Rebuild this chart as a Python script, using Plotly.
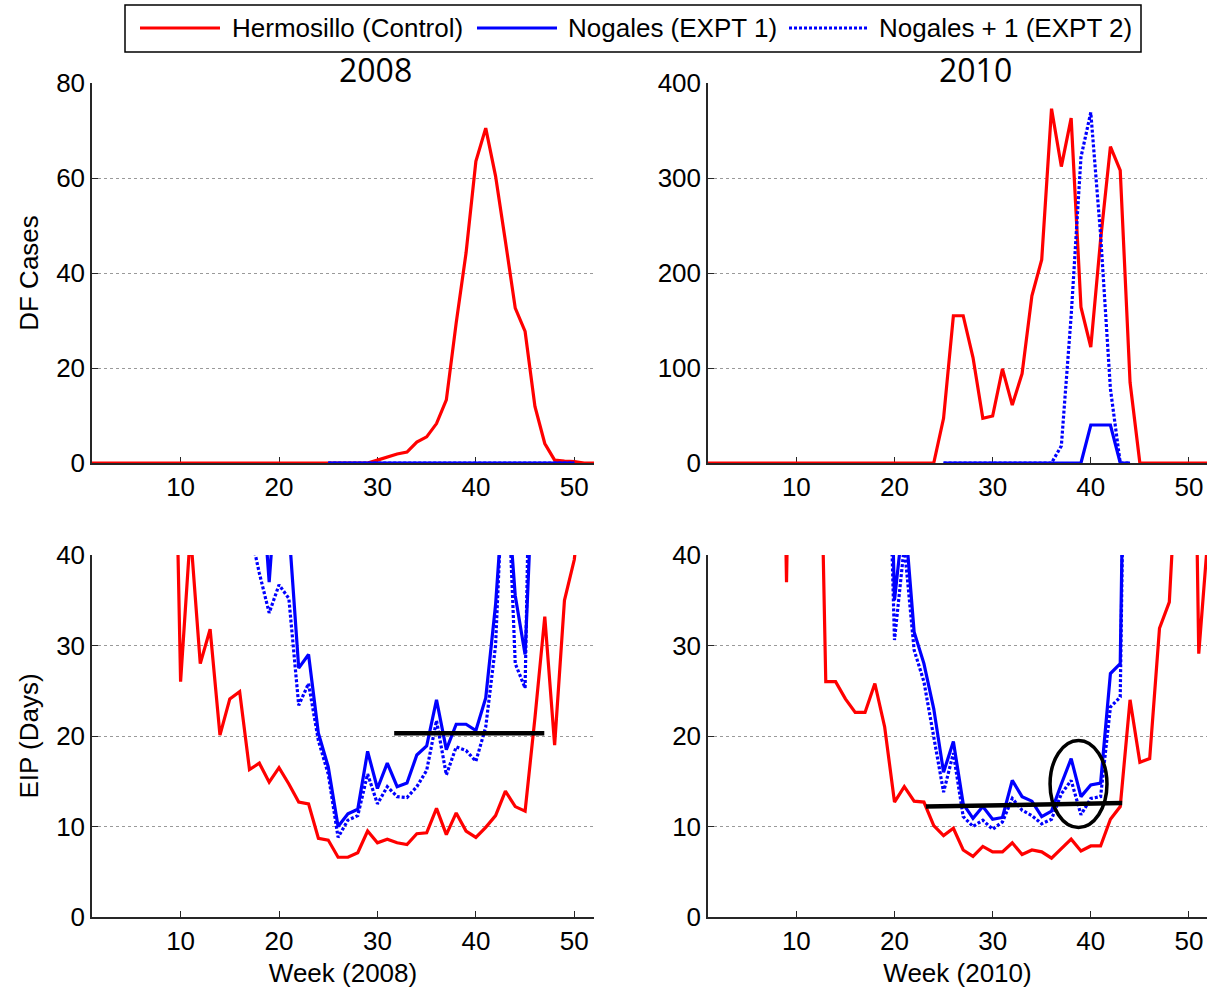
import plotly.graph_objects as go

# ---------------- data ----------------
WEEKS = list(range(1, 53))

# DF cases, 2008
df08_hermosillo = [0, 0, 0, 0, 0, 0, 0, 0, 0, 0,
                   0, 0, 0, 0, 0, 0, 0, 0, 0, 0,
                   0, 0, 0, 0, 0, 0, 0, 0, 0, 0.6,
                   1.3, 1.9, 2.3, 4.4, 5.5, 8.3, 13.3, 29.5, 44.2, 63.5,
                   70.5, 60.4, 46.7, 32.6, 27.7, 11.9, 4.1, 0.6, 0.4, 0.3,
                   0, 0]
df08_nogales = [None, None, None, None, None, None, None, None, None, None,
                None, None, None, None, None, None, None, None, None, None,
                None, None, None, None, 0, 0, 0, 0, 0, 0,
                0, 0, 0, 0, 0, 0, 0, 0, 0, 0,
                0, 0, 0, 0, 0, 0, 0, 0, 0, 0,
                None, None]
df08_nogales_p1 = [None, None, None, None, None, None, None, None, None, None,
                   None, None, None, None, None, None, None, None, None, None,
                   None, None, None, None, 0, 0, 0, 0, 0, 0,
                   0, 0, 0, 0, 0, 0, 0, 0, 0, 0,
                   0, 0, 0, 0, 0, 0, 0, 0, 0, 0,
                   None, None]

# DF cases, 2010
df10_hermosillo = [0, 0, 0, 0, 0, 0, 0, 0, 0, 0,
                   0, 0, 0, 0, 0, 0, 0, 0, 0, 0,
                   0, 0, 0, 0, 47, 155, 155, 111, 47, 49.5,
                   99, 61, 94, 176, 214, 373, 312, 363, 164, 122,
                   235, 333, 308, 85, 0, 0, 0, 0, 0, 0,
                   0, 0]
df10_nogales = [None, None, None, None, None, None, None, None, None, None,
                None, None, None, None, None, None, None, None, None, None,
                None, None, None, None, 0, 0, 0, 0, 0, 0,
                0, 0, 0, 0, 0, 0, 0, 0, 0, 40,
                40, 40, 0, 0, None, None, None, None, None, None,
                None, None]
df10_nogales_p1 = [None, None, None, None, None, None, None, None, None, None,
                   None, None, None, None, None, None, None, None, None, None,
                   None, None, None, None, 0, 0, 0, 0, 0, 0,
                   0, 0, 0, 0, 0, 0, 18, 155, 322, 369,
                   240, 78, 0, 0, None, None, None, None, None, None,
                   None, None]

# EIP (days), 2008
eip08_hermosillo = [None, None, None, None, None, None, None, None, 80, 26.0,
                    42.5, 28.0, 31.8, 20.1, 24.1, 24.9, 16.3, 17.0, 14.9, 16.5,
                    14.7, 12.7, 12.5, 8.7, 8.5, 6.6, 6.6, 7.1, 9.5, 8.2,
                    8.6, 8.2, 8.0, 9.2, 9.3, 12.0, 9.1, 11.5, 9.5, 8.8,
                    9.9, 11.2, 13.9, 12.2, 11.7, 22.0, 33.2, 19.0, 35.0, 39.5,
                    50, 60]
eip08_nogales = [None, None, None, None, None, None, None, None, None, None,
                 None, None, None, None, None, None, None, 52, 37.0, 52,
                 43, 27.5, 29.0, 20.3, 16.6, 10.0, 11.4, 11.9, 18.3, 14.2,
                 17.0, 14.4, 14.8, 17.9, 18.9, 24.0, 18.5, 21.3, 21.3, 20.6,
                 24.2, 34.5, 50, 35.5, 29.0, 55, None, None, None, None,
                 None, None]
eip08_nogales_p1 = [None, None, None, None, None, None, None, None, None, None,
                    None, None, None, None, None, None, 43, 38, 33.6, 36.7,
                    35.2, 23.4, 25.8, 19.5, 15.8, 8.8, 10.7, 11.2, 15.8, 12.5,
                    14.4, 13.3, 13.2, 14.4, 16.2, 21.7, 15.7, 18.8, 18.4, 17.2,
                    21.0, 30.0, 55, 28.0, 25.3, 84, None, None, None, None,
                    None, None]

# EIP (days), 2010
eip10_hermosillo = [None, None, None, None, None, None, None, 100, 37.0, 100,
                    None, 80, 26.0, 26.0, 24.1, 22.6, 22.6, 25.8, 21.0, 12.7,
                    14.4, 12.8, 12.7, 10.1, 9.0, 9.8, 7.4, 6.7, 7.8, 7.2,
                    7.2, 8.2, 6.9, 7.4, 7.2, 6.5, 7.6, 8.6, 7.3, 7.85,
                    7.85, 10.8, 12.2, 24.0, 17.1, 17.5, 31.9, 34.8, 55, 100,
                    29.1, 43]
eip10_nogales = [None, None, None, None, None, None, None, None, None, None,
                 None, None, None, None, None, None, None, None, 80, 35.0,
                 45, 31.5, 28.0, 23.0, 16.0, 19.4, 12.5, 10.9, 12.2, 10.8,
                 11.0, 15.1, 13.3, 12.8, 11.1, 11.7, 14.7, 17.5, 13.3, 14.6,
                 14.8, 26.9, 28.0, 100, None, None, None, None, None, None,
                 None, None]
eip10_nogales_p1 = [None, None, None, None, None, None, None, None, None, None,
                    None, None, None, None, None, None, None, None, 70, 30.6,
                    41, 29.5, 26.0, 20.0, 13.8, 18.1, 11.1, 10.0, 10.7, 9.7,
                    10.5, 13.1, 11.8, 11.2, 10.3, 10.8, 13.6, 15.1, 11.3, 13.1,
                    13.3, 23.2, 24.3, 100, None, None, None, None, None, None,
                    None, None]

# threshold lines and highlighted region
thr08_weeks = [31.7, 46.95]
thr08_eip = [20.3, 20.3]
thr10_weeks = [23.2, 43.2]
thr10_eip = [12.2, 12.6]
ellipse_weeks = [35.85, 41.65]
ellipse_eip = [9.9, 19.5]

SERIES_NAMES = ["Hermosillo (Control)", "Nogales (EXPT 1)", "Nogales + 1 (EXPT 2)"]
TICK_WEEKS = [10, 20, 30, 40, 50]

# ---------------- style ----------------
W, H = 1207, 988
RED = "#FF0000"
BLUE = "#0000FF"
AX = "#262626"
FONT = "Liberation Sans, Arial, sans-serif"
FS = 26
LW = 3.2
DOT = "3px,2px"

def px_x(v):
    return v / W

def px_y(v):
    return 1 - v / H

fig = go.Figure()

panels = [
    ("x", "y", df08_hermosillo, df08_nogales, df08_nogales_p1),
    ("x2", "y2", df10_hermosillo, df10_nogales, df10_nogales_p1),
    ("x3", "y3", eip08_hermosillo, eip08_nogales, eip08_nogales_p1),
    ("x4", "y4", eip10_hermosillo, eip10_nogales, eip10_nogales_p1),
]
for xa, ya, h, n, n1 in panels:
    fig.add_trace(go.Scatter(x=WEEKS, y=h, mode="lines", name=SERIES_NAMES[0],
                             line=dict(color=RED, width=LW), xaxis=xa, yaxis=ya,
                             showlegend=False, connectgaps=False))
    fig.add_trace(go.Scatter(x=WEEKS, y=n, mode="lines", name=SERIES_NAMES[1],
                             line=dict(color=BLUE, width=LW), xaxis=xa, yaxis=ya,
                             showlegend=False, connectgaps=False))
    fig.add_trace(go.Scatter(x=WEEKS, y=n1, mode="lines", name=SERIES_NAMES[2],
                             line=dict(color=BLUE, width=LW, dash=DOT), xaxis=xa, yaxis=ya,
                             showlegend=False, connectgaps=False))

fig.add_trace(go.Scatter(x=thr08_weeks, y=thr08_eip, mode="lines",
                         line=dict(color="black", width=4.5), xaxis="x3", yaxis="y3",
                         showlegend=False))
fig.add_trace(go.Scatter(x=thr10_weeks, y=thr10_eip, mode="lines",
                         line=dict(color="black", width=4.5), xaxis="x4", yaxis="y4",
                         showlegend=False))

fig.add_shape(type="circle", xref="x4", yref="y4",
              x0=ellipse_weeks[0], x1=ellipse_weeks[1],
              y0=ellipse_eip[0], y1=ellipse_eip[1],
              line=dict(color="black", width=3.5))

# ---------------- axes ----------------
left_dom = [px_x(92), px_x(594)]
right_dom = [px_x(708), 1.0]
top_dom = [px_y(463), px_y(83)]
bot_dom = [px_y(917), px_y(555)]

def xstyle(dom, rng, anchor, title=None):
    d = dict(domain=dom, range=rng, anchor=anchor, showline=True, linecolor=AX,
             linewidth=1.5, ticks="inside", ticklen=6, tickwidth=1.2, tickcolor=AX,
             tickvals=TICK_WEEKS, tickfont=dict(family=FONT, size=FS, color="black"),
             showgrid=False, zeroline=False, layer="below traces", fixedrange=True,
             automargin=False)
    if title:
        d["title"] = dict(text=title, font=dict(family=FONT, size=FS, color="black"))
    return d

def ystyle(dom, rng, dtick, anchor, title=None):
    d = dict(domain=dom, range=rng, anchor=anchor, showline=True, linecolor=AX,
             linewidth=1.5, ticks="inside", ticklen=6, tickwidth=1.2, tickcolor=AX,
             dtick=dtick, tick0=0, tickfont=dict(family=FONT, size=FS, color="black"),
             showgrid=True, gridcolor="#9a9a9a", gridwidth=1, griddash="dot",
             zeroline=False, layer="below traces", fixedrange=True, automargin=False)
    if title:
        d["title"] = dict(text=title, font=dict(family=FONT, size=FS, color="black"),
                          standoff=10)
    return d

XR_LEFT = [1, 52]
XR_RIGHT = [1, 51.84]

fig.update_layout(
    width=W, height=H, autosize=False,
    margin=dict(l=0, r=0, t=0, b=0, pad=0, autoexpand=False),
    paper_bgcolor="white", plot_bgcolor="white",
    showlegend=False,
    xaxis=xstyle(left_dom, XR_LEFT, "y"),
    yaxis=ystyle(top_dom, [0, 80], 20, "x", "DF Cases"),
    xaxis2=xstyle(right_dom, XR_RIGHT, "y2"),
    yaxis2=ystyle(top_dom, [0, 400], 100, "x2"),
    xaxis3=xstyle(left_dom, XR_LEFT, "y3", "Week (2008)"),
    yaxis3=ystyle(bot_dom, [0, 40], 10, "x3", "EIP (Days)"),
    xaxis4=xstyle(right_dom, XR_RIGHT, "y4", "Week (2010)"),
    yaxis4=ystyle(bot_dom, [0, 40], 10, "x4"),
)

# panel titles
TITLE_FONT = dict(family="Open Sans, Noto Sans, sans-serif", size=32, color="black")
fig.add_annotation(text="2008", xref="paper", yref="paper", x=px_x(375), y=px_y(69),
                   xanchor="center", yanchor="middle", showarrow=False, font=TITLE_FONT)
fig.add_annotation(text="2010", xref="paper", yref="paper", x=px_x(975), y=px_y(69),
                   xanchor="center", yanchor="middle", showarrow=False, font=TITLE_FONT)

# legend box (drawn in paper space)
LEG_Y = px_y(28)
fig.add_shape(type="rect", xref="paper", yref="paper",
              x0=px_x(125), x1=px_x(1141), y0=px_y(52), y1=px_y(5),
              line=dict(color="black", width=1.5), fillcolor="white")
legend_items = [
    (140, 220, 230, RED, "solid", SERIES_NAMES[0]),
    (477, 557, 566, BLUE, "solid", SERIES_NAMES[1]),
    (789, 869, 877, BLUE, DOT, SERIES_NAMES[2]),
]
for x0, x1, xt, col, dash, label in legend_items:
    fig.add_shape(type="line", xref="paper", yref="paper",
                  x0=px_x(x0), x1=px_x(x1), y0=LEG_Y, y1=LEG_Y,
                  line=dict(color=col, width=LW, dash=dash))
    fig.add_annotation(text=label, xref="paper", yref="paper", x=px_x(xt), y=LEG_Y,
                       xanchor="left", yanchor="middle", showarrow=False,
                       font=dict(family=FONT, size=FS, color="black"))

# pin the graph to the page's top-left corner (no body margin / scrollbars)
PIN_JS = ("document.documentElement.style.margin='0';"
          "document.body.style.margin='0';document.body.style.padding='0';"
          "document.documentElement.style.overflow='hidden';"
          "document.body.style.overflow='hidden';"
          "var gd=document.getElementById('{plot_id}');"
          "gd.style.position='absolute';gd.style.left='0px';gd.style.top='0px';")

fig.write_html("out.html", post_script=PIN_JS,
               config={"displayModeBar": False, "responsive": False})
